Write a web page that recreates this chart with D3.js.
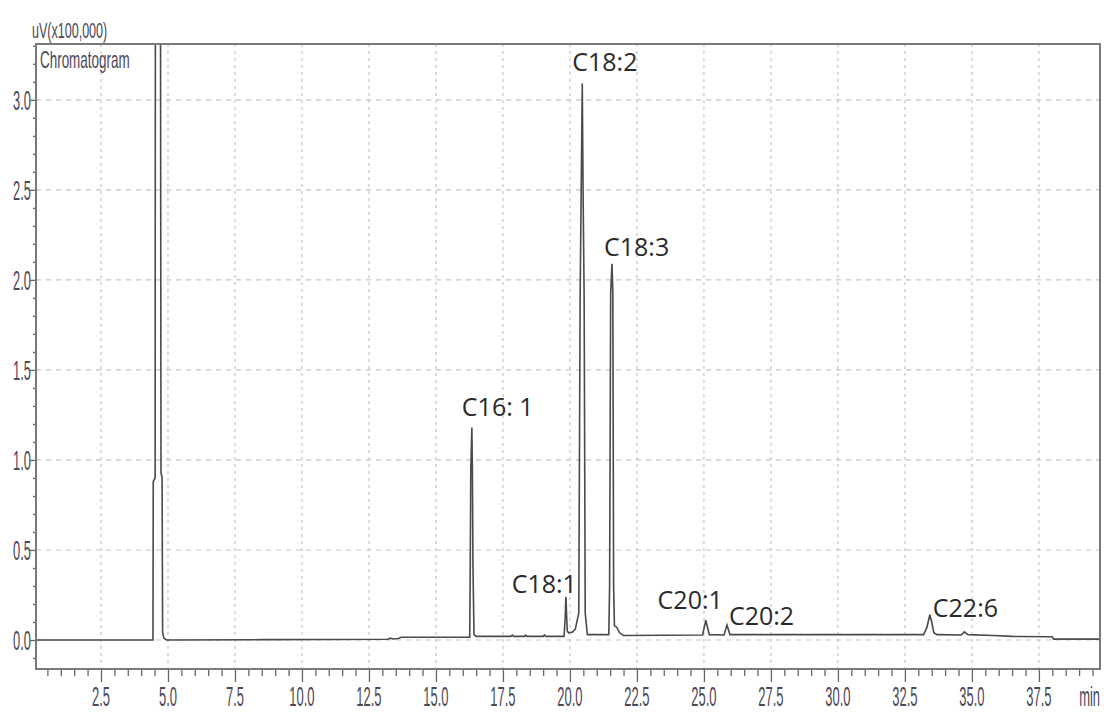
<!DOCTYPE html>
<html>
<head>
<meta charset="utf-8">
<script src="https://cdn.jsdelivr.net/npm/d3@7"></script>
<style>
  html, body { margin: 0; padding: 0; background: #fff; }
  svg { display: block; }
</style>
</head>
<body>
<svg id="chart" width="1104" height="713"></svg>
<script>
// Retention time (min) and detector signal (uV x 100,000) of the trace
const times = [0.08, 4.44, 4.45, 4.52, 4.53, 4.72, 4.74, 4.78, 4.80, 4.85, 4.95,
  8.6, 13.2, 13.3, 13.4, 13.6, 13.7,
  16.26, 16.28, 16.30, 16.34, 16.36, 16.38, 16.42, 16.5,
  17.8, 17.85, 17.9, 18.3, 18.35, 18.4, 19.0, 19.05, 19.1,
  19.78, 19.82, 19.85, 19.88, 19.90, 19.95, 20.1, 20.2,
  20.33, 20.38, 20.42, 20.46, 20.49, 20.53, 20.57, 20.65,
  21.45, 21.48, 21.52, 21.57, 21.60, 21.63, 21.66, 21.75, 21.85, 22.0,
  24.95, 25.07, 25.2, 25.75, 25.86, 25.97,
  33.2, 33.32, 33.43, 33.5, 33.58, 33.7,
  34.6, 34.72, 34.85, 35.8, 36.5, 38.0, 38.05, 39.78];
const signal = [0.0, 0.0, 0.88, 0.90, 3.6, 3.6, 0.93, 0.90, 0.04, 0.01, 0.0,
  0.002, 0.004, 0.01, 0.006, 0.008, 0.015,
  0.015, 0.42, 0.95, 1.18, 0.95, 0.42, 0.03, 0.02,
  0.02, 0.027, 0.02, 0.02, 0.027, 0.02, 0.02, 0.028, 0.02,
  0.02, 0.12, 0.24, 0.12, 0.05, 0.04, 0.045, 0.06,
  0.15, 1.9, 2.5, 3.09, 2.5, 1.9, 0.15, 0.03,
  0.03, 0.3, 1.93, 2.09, 1.93, 0.3, 0.08, 0.07, 0.04, 0.025,
  0.028, 0.11, 0.03, 0.028, 0.083, 0.03,
  0.03, 0.07, 0.14, 0.10, 0.04, 0.03,
  0.028, 0.045, 0.03, 0.025, 0.02, 0.018, 0.005, 0.005];

// Identified fatty acid peaks
const peakNames = ["C16: 1", "C18:1", "C18:2", "C18:3", "C20:1", "C20:2", "C22:6"];
const peakTimes = [16.34, 19.85, 20.46, 21.57, 25.07, 25.86, 33.43];
const peakHeights = [1.18, 0.24, 3.09, 2.09, 0.11, 0.083, 0.14];

// Axis tick labels
const xTicks = [2.5, 5.0, 7.5, 10.0, 12.5, 15.0, 17.5, 20.0, 22.5, 25.0, 27.5, 30.0, 32.5, 35.0, 37.5];
const yTicks = [0.0, 0.5, 1.0, 1.5, 2.0, 2.5, 3.0];

// Placement of each peak label relative to its apex (px)
const labelLayout = {
  "C16: 1": { dx: -10, dy: -12, anchor: "start" },
  "C18:1": { dx: 11, dy: -4, anchor: "end" },
  "C18:2": { dx: -10, dy: -13, anchor: "start" },
  "C18:3": { dx: -8, dy: -8, anchor: "start" },
  "C20:1": { dx: 17, dy: -11, anchor: "end" },
  "C20:2": { dx: 2, dy: 0, anchor: "start" },
  "C22:6": { dx: 3, dy: 2, anchor: "start" }
};

const svg = d3.select("#chart");
const plot = { left: 36, top: 44, right: 1100, bottom: 669 };

const x = d3.scaleLinear().domain([0.075, 39.78]).range([plot.left, plot.right]);
const y = d3.scaleLinear().domain([-0.161, 3.31]).range([plot.bottom, plot.top]);

const textColor = "#4d4858";
const narrow = "Liberation Sans, Arial, sans-serif";

// Grid
const grid = svg.append("g");
grid.selectAll("line.h").data(yTicks).join("line")
  .attr("x1", plot.left).attr("x2", plot.right)
  .attr("y1", d => y(d)).attr("y2", d => y(d))
  .attr("stroke", "#c4c4c4").attr("stroke-width", 1.2)
  .attr("stroke-dasharray", "5,5");
grid.selectAll("line.v").data(xTicks).join("line")
  .attr("x1", d => x(d)).attr("x2", d => x(d))
  .attr("y1", plot.top).attr("y2", plot.bottom)
  .attr("stroke", "#c4c4c4").attr("stroke-width", 1.2)
  .attr("stroke-dasharray", "3,4");

// Trace
svg.append("clipPath").attr("id", "plotclip")
  .append("rect").attr("x", plot.left).attr("y", plot.top)
  .attr("width", plot.right - plot.left).attr("height", plot.bottom - plot.top);

const line = d3.line().x(i => x(times[i])).y(i => y(signal[i]));
svg.append("path")
  .attr("clip-path", "url(#plotclip)")
  .attr("d", line(d3.range(times.length)))
  .attr("fill", "none")
  .attr("stroke", "#4a4a4a")
  .attr("stroke-width", 1.6)
  .attr("stroke-linejoin", "miter");

// Axis ticks
const xMinor = d3.range(0.5, 39.6, 0.5);
const yMinor = d3.range(-0.1, 3.31, 0.1);
const xAxis = d3.axisBottom(x).tickValues(xMinor).tickSize(7).tickFormat("");
svg.append("g").attr("transform", `translate(0,${plot.bottom})`).call(xAxis)
  .call(g => g.select(".domain").remove())
  .call(g => g.selectAll("line").attr("stroke", "#666").attr("stroke-width", 1.3)
    .attr("y2", d => (Math.abs(d / 2.5 - Math.round(d / 2.5)) < 1e-6) ? 13 : 7));
const yAxis = d3.axisLeft(y).tickValues(yMinor).tickSize(3).tickFormat("");
svg.append("g").attr("transform", `translate(${plot.left},0)`).call(yAxis)
  .call(g => g.select(".domain").remove())
  .call(g => g.selectAll("line").attr("stroke", "#666").attr("stroke-width", 1.3)
    .attr("x2", d => (Math.abs(d / 0.5 - Math.round(d / 0.5)) < 1e-6) ? -6 : -3));

// Frame
svg.append("rect")
  .attr("x", plot.left).attr("y", plot.top)
  .attr("width", plot.right - plot.left).attr("height", plot.bottom - plot.top)
  .attr("fill", "none").attr("stroke", "#7a7a7a").attr("stroke-width", 2);

// Condensed label helper
function narrowText(g, str, px, py, size, sx, anchor) {
  g.append("text")
    .attr("transform", `translate(${px},${py}) scale(${sx},1)`)
    .attr("text-anchor", anchor)
    .attr("font-family", narrow)
    .attr("font-size", size)
    .attr("fill", textColor)
    .text(str);
}

const labels = svg.append("g");
xTicks.forEach(t => narrowText(labels, t.toFixed(1), x(t), 706, 27, 0.48, "middle"));
yTicks.forEach(t => narrowText(labels, t.toFixed(1), 31, y(t) + 10, 28, 0.46, "end"));
narrowText(labels, "min", 1100, 706, 27, 0.48, "end");
narrowText(labels, "uV(x100,000)", 32, 38, 22, 0.57, "start");
narrowText(labels, "Chromatogram", 40, 68, 24, 0.56, "start");

// Peak labels
svg.append("g").selectAll("text").data(d3.range(peakNames.length)).join("text")
  .attr("x", i => x(peakTimes[i]) + labelLayout[peakNames[i]].dx)
  .attr("y", i => y(peakHeights[i]) + labelLayout[peakNames[i]].dy)
  .attr("text-anchor", i => labelLayout[peakNames[i]].anchor)
  .attr("font-family", "Open Sans, Noto Sans, sans-serif")
  .attr("font-size", 25)
  .attr("fill", "#2a2a2a")
  .text(i => peakNames[i]);
</script>
</body>
</html>
